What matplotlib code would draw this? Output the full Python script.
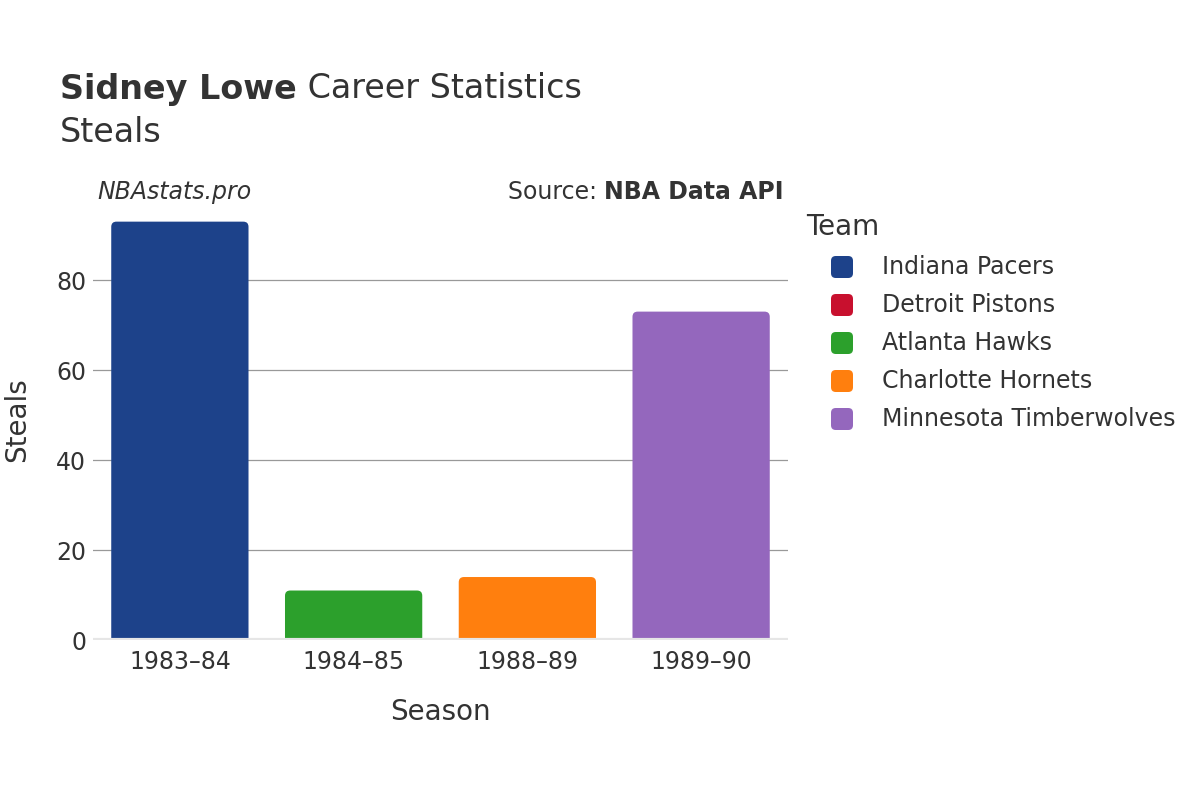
import matplotlib
matplotlib.use("Agg")
import matplotlib.pyplot as plt
from matplotlib.patches import FancyBboxPatch

seasons = ["1983–84", "1984–85", "1988–89", "1989–90"]
season_team = ["Indiana Pacers", "Atlanta Hawks", "Charlotte Hornets", "Minnesota Timberwolves"]
steals = [93, 11, 14, 73]

teams = ["Indiana Pacers", "Detroit Pistons", "Atlanta Hawks",
         "Charlotte Hornets", "Minnesota Timberwolves"]
team_colors = {
    "Indiana Pacers": "#1d428a",
    "Detroit Pistons": "#c8102e",
    "Atlanta Hawks": "#2ca02c",
    "Charlotte Hornets": "#ff7f0e",
    "Minnesota Timberwolves": "#9467bd",
}

text_col = "#333333"
plt.rcParams['font.family'] = ['DejaVu Sans']

fig = plt.figure(figsize=(12, 8), dpi=100)
ax = fig.add_axes([93 / 1200, 0.2, 695 / 1200, 435 / 800])

ymax = 96.7
ax.set_xlim(-0.5, len(seasons) - 0.5)
ax.set_ylim(0, ymax)

# aspect between data units for rounded corners
x_per_px = len(seasons) / 695
y_per_px = ymax / 435
aspect = y_per_px / x_per_px

bar_w = 0.79
for i, (team, v) in enumerate(zip(season_team, steals)):
    box = FancyBboxPatch((i - bar_w / 2, -3), bar_w, v + 3,
                         boxstyle="round,pad=0,rounding_size=0.03",
                         mutation_aspect=aspect,
                         facecolor=team_colors[team], edgecolor="none", zorder=3)
    ax.add_patch(box)

ax.set_yticks([0, 20, 40, 60, 80])
ax.grid(axis="y", color="#999999", linewidth=0.9, zorder=0)
ax.set_axisbelow(True)
ax.axhline(0, color="#e6e6e6", linewidth=3, zorder=4)
for s in ax.spines.values():
    s.set_visible(False)
ax.set_xticks(range(len(seasons)))
ax.set_xticklabels(seasons)
ax.tick_params(axis="both", length=0, labelsize=17, labelcolor=text_col)
ax.tick_params(axis="x", pad=7)
ax.tick_params(axis="y", pad=5)

fig.text(440 / 1200, 1 - 712 / 800, "Season", ha="center", va="center",
         fontsize=20, color=text_col)
fig.text(17 / 1200, 1 - 420 / 800, "Steals", ha="center", va="center",
         rotation=90, fontsize=20, color=text_col)

# title
t1 = fig.text(60 / 1200, 1 - 89 / 800, "Sidney Lowe", ha="left", va="center",
              fontsize=24, fontweight="bold", color=text_col)
fig.canvas.draw()
bb = t1.get_window_extent()
fig.text(bb.x1 / 1200, 1 - 89 / 800, " Career Statistics", ha="left",
         va="center", fontsize=24, color=text_col)
fig.text(60 / 1200, 1 - 132 / 800, "Steals", ha="left", va="center",
         fontsize=24, color=text_col)

fig.text(97 / 1200, 1 - 192 / 800, "NBAstats.pro", ha="left", va="center",
         fontsize=17, style="italic", color=text_col)
s2 = fig.text(784 / 1200, 1 - 192 / 800, "NBA Data API", ha="right", va="center",
              fontsize=17, fontweight="bold", color=text_col)
fig.canvas.draw()
bb2 = s2.get_window_extent()
fig.text(bb2.x0 / 1200, 1 - 192 / 800, "Source: ", ha="right", va="center",
         fontsize=17, color=text_col)

# legend
fig.text(806 / 1200, 1 - 227 / 800, "Team", ha="left", va="center",
         fontsize=20, color=text_col)
for k, team in enumerate(teams):
    yc = 267 + 38 * k
    sq = FancyBboxPatch((831 / 1200, 1 - (yc + 11) / 800), 22 / 1200, 22 / 800,
                        boxstyle="round,pad=0,rounding_size=0.004",
                        mutation_aspect=1.5, transform=fig.transFigure,
                        facecolor=team_colors[team], edgecolor="none")
    fig.patches.append(sq)
    fig.text(882 / 1200, 1 - yc / 800, team, ha="left", va="center",
             fontsize=17, color=text_col)

fig.savefig("out.png", dpi=100, facecolor="white")
